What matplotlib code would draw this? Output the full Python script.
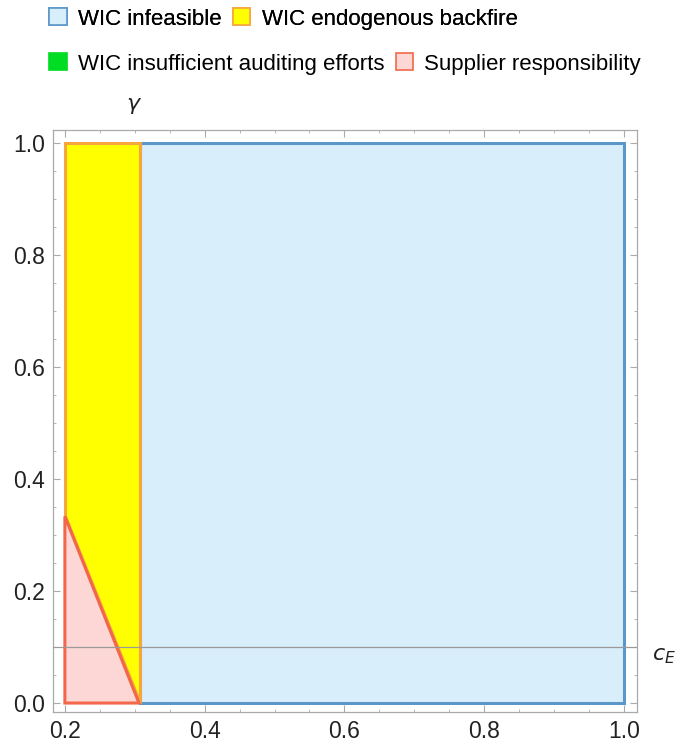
import numpy as np
import matplotlib.pyplot as plt
from matplotlib.patches import Polygon, Patch

plt.rcParams['font.family'] = ['Liberation Sans', 'DejaVu Sans']

# region boundaries
x_min, x_max = 0.2, 1.0
x_cut = 0.308          # WIC feasibility threshold in c_E
gamma_peak = 1/3       # top of supplier responsibility triangle
c_line = 0.1           # grey reference line

# region polygons (c_E, gamma)
infeasible = [(x_cut, 0.0), (x_max, 0.0), (x_max, 1.0), (x_cut, 1.0)]
backfire = [(x_min, gamma_peak), (x_min, 1.0), (x_cut, 1.0), (x_cut, 0.0)]
supplier = [(x_min, 0.0), (x_min, gamma_peak), (x_cut - 0.002, 0.0)]

legend_row1 = ['WIC infeasible', 'WIC endogenous backfire']
legend_row2 = ['WIC insufficient auditing efforts', 'Supplier responsibility']

blue_fill, blue_edge = '#d8eefa', '#5b98c9'
yel_fill, yel_edge = '#ffff00', '#f7a540'
pink_fill, pink_edge = '#fdd6d6', '#f2674a'
green_fill = '#00dd22'

fig = plt.figure(figsize=(6.91, 7.48), dpi=100)
ax = fig.add_axes([53/691, 36/748, 584/691, 582/748])

ax.add_patch(Polygon(infeasible, closed=True, facecolor=blue_fill,
                     edgecolor=blue_edge, lw=2.2, zorder=2))
ax.add_patch(Polygon(backfire, closed=True, facecolor=yel_fill,
                     edgecolor=yel_edge, lw=2.2, zorder=3))
ax.add_patch(Polygon(supplier, closed=True, facecolor=pink_fill,
                     edgecolor=pink_edge, lw=2.2, zorder=4))
ax.axhline(c_line, color='#9a9a9a', lw=0.9, zorder=5)

ax.set_xlim(0.183, 1.0186)
ax.set_ylim(-0.016, 1.0232)
ax.set_xticks(np.arange(0.2, 1.01, 0.2))
ax.set_yticks(np.arange(0.0, 1.01, 0.2))
ax.set_xticks(np.arange(0.2, 1.01, 0.05), minor=True)
ax.set_yticks(np.arange(0.0, 1.01, 0.05), minor=True)
ax.set_xticklabels(['%.1f' % v for v in ax.get_xticks()])
ax.set_yticklabels(['%.1f' % v for v in ax.get_yticks()])
ax.tick_params(which='both', direction='in', top=True, right=True,
               color='#aaaaaa', labelsize=16.5, labelcolor='#222222')
ax.tick_params(which='major', length=5, width=0.8, pad=6)
ax.tick_params(which='minor', length=2.5, width=0.6)
for s in ax.spines.values():
    s.set_color('#aaaaaa')
    s.set_linewidth(0.9)

fig.text(134/691, 1 - 106/748, r'$\gamma$', fontsize=16, ha='center',
         va='center', color='#222222')
fig.text(652/691, 1 - 656/748, r'$c_E$', fontsize=16, ha='left',
         va='center', color='#222222')

# legend in two rows
h1 = [Patch(facecolor=blue_fill, edgecolor=blue_edge, lw=1.2),
      Patch(facecolor=yel_fill, edgecolor=yel_edge, lw=1.2)]
h2 = [Patch(facecolor=green_fill, edgecolor=green_fill, lw=1.2),
      Patch(facecolor=pink_fill, edgecolor=pink_edge, lw=1.2)]
leg_kw = dict(ncol=2, loc='center left', frameon=False, fontsize=16,
              handlelength=0.8, handleheight=0.8, handletextpad=0.5,
              columnspacing=0.5, borderpad=0, borderaxespad=0)
leg1 = fig.legend(h1, legend_row1, bbox_to_anchor=(49/691, 1 - 19/748),
                  **leg_kw)
fig.add_artist(leg1)
fig.legend(h2, legend_row2, bbox_to_anchor=(49/691, 1 - 64/748), **leg_kw)

fig.savefig('out.png', dpi=100)
